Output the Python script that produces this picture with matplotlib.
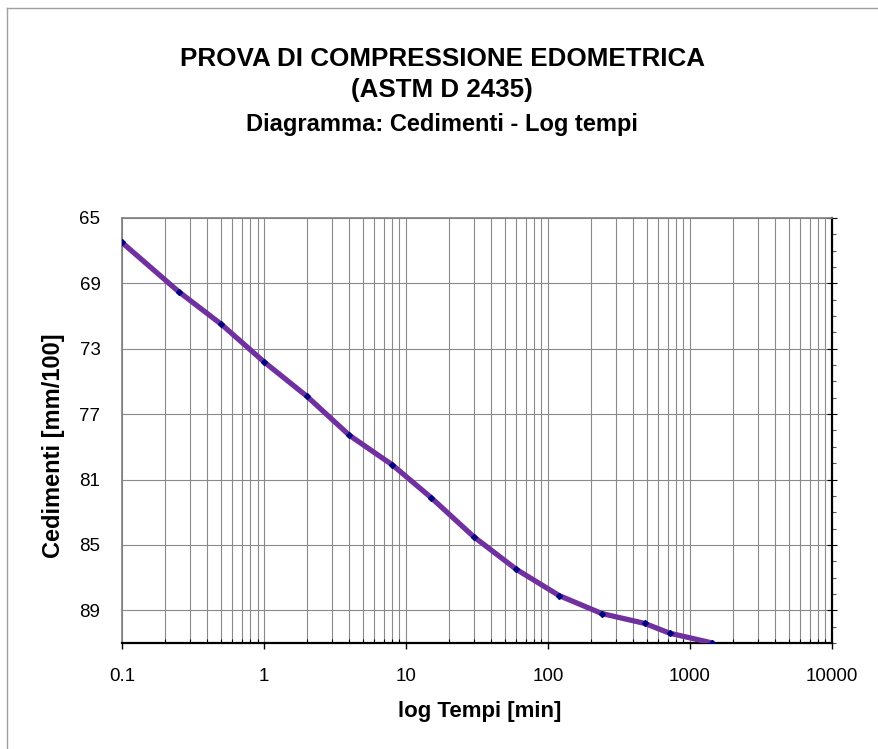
import matplotlib
matplotlib.use("Agg")
import matplotlib.pyplot as plt
from matplotlib.ticker import FixedLocator, LogLocator, NullFormatter, FixedFormatter
import numpy as np

# edometric test readings (time in minutes, settlement in mm/100)
tempi = [0.1, 0.25, 0.5, 1, 2, 4, 8, 15, 30, 60, 120, 240, 480, 720, 1440]
cedimenti = [66.5, 69.5, 71.5, 73.8, 75.9, 78.3, 80.1, 82.1, 84.5, 86.5,
             88.1, 89.2, 89.8, 90.4, 91.0]

y_ticks = [65, 69, 73, 77, 81, 85, 89]
x_ticks = [0.1, 1, 10, 100, 1000, 10000]
x_labels = ["0.1", "1", "10", "100", "1000", "10000"]

plt.rcParams["font.family"] = ["Liberation Sans", "DejaVu Sans"]

fig = plt.figure(figsize=(8.79, 7.49), dpi=100)
ax = fig.add_axes([0.1388, 0.1415, 0.8077, 0.5675])

ax.plot(tempi, cedimenti, color="#7030A0", lw=3.8, solid_capstyle="round", zorder=3)
ax.plot(tempi, cedimenti, ls="none", marker="D", ms=3, color="#000080", zorder=4)

ax.set_xscale("log")
ax.set_xlim(0.1, 10000)
ax.set_ylim(91, 65)

ax.xaxis.set_major_locator(FixedLocator(x_ticks))
ax.xaxis.set_major_formatter(FixedFormatter(x_labels))
ax.xaxis.set_minor_locator(LogLocator(base=10, subs=np.arange(2, 10)))
ax.xaxis.set_minor_formatter(NullFormatter())
ax.yaxis.set_major_locator(FixedLocator(y_ticks))
ax.yaxis.set_minor_locator(FixedLocator(np.arange(65, 92, 1)))

ax.grid(True, which="major", axis="both", color="#8a8a8a", lw=0.8)
ax.grid(True, which="minor", axis="x", color="#8a8a8a", lw=0.8)

ax.tick_params(axis="x", which="major", direction="out", length=4, width=1,
               labelsize=13.5, pad=14)
ax.tick_params(axis="x", which="minor", direction="in", length=3, width=0.8)
ax.tick_params(axis="y", which="both", left=False, right=True, labelleft=True,
               labelright=False, labelsize=13.5, pad=12)
ax.tick_params(axis="y", which="major", direction="inout", length=7, width=0.8)
ax.tick_params(axis="y", which="minor", direction="out", length=3, width=0.8,
               color="#555555")

for side in ["top", "left"]:
    ax.spines[side].set_color("#808080")
    ax.spines[side].set_linewidth(1.2)
for side in ["bottom", "right"]:
    ax.spines[side].set_color("black")
    ax.spines[side].set_linewidth(1.6)

ax.set_xlabel("log Tempi [min]", fontsize=16, fontweight="bold")
ax.xaxis.label.set_va("center")
ax.xaxis.set_label_coords(0.504, -0.16)
ax.set_ylabel("Cedimenti [mm/100]", fontsize=17, fontweight="bold")
ax.yaxis.label.set_va("center")
ax.yaxis.set_label_coords(-0.097, 0.4635)

fig.text(0.503, 0.921, "PROVA DI COMPRESSIONE EDOMETRICA", ha="center",
         va="center", fontsize=18.7, fontweight="bold")
fig.text(0.503, 0.880, "(ASTM D 2435)", ha="center", va="center",
         fontsize=18.7, fontweight="bold")
fig.text(0.503, 0.834, "Diagramma: Cedimenti - Log tempi", ha="center",
         va="center", fontsize=17, fontweight="bold")

# thin frame lines at top and left like the original sheet
fig.add_artist(plt.Line2D([7 / 879, 1], [1 - 8 / 749, 1 - 8 / 749],
                          transform=fig.transFigure, color="#a0a0a0", lw=1))
fig.add_artist(plt.Line2D([7 / 879, 7 / 879], [0, 1 - 8 / 749],
                          transform=fig.transFigure, color="#a0a0a0", lw=1))

fig.savefig("out.png", dpi=100)
